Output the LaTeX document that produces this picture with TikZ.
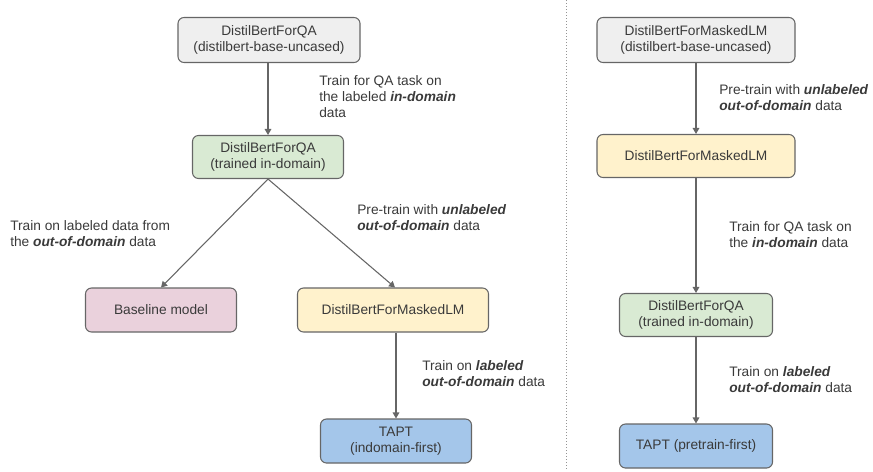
\documentclass[tikz,border=0pt]{standalone}
\usepackage{fontspec}
\setmainfont{Liberation Sans}
\usetikzlibrary{arrows.meta}

\definecolor{boxline}{HTML}{666666}
\definecolor{textgray}{HTML}{3A3A3A}
\definecolor{fillgray}{HTML}{EFEFEF}
\definecolor{fillgreen}{HTML}{D9EAD3}
\definecolor{fillpink}{HTML}{EAD1DC}
\definecolor{fillyellow}{HTML}{FFF2CC}
\definecolor{fillblue}{HTML}{A4C6EA}

\tikzset{
  box/.style={draw=boxline, line width=0.8pt, rounded corners=4.5pt, align=center,
    text=textgray, inner sep=2pt},
  note/.style={anchor=north west, align=left, inner sep=0pt, text=textgray},
  flow/.style={draw=boxline, line width=0.8pt, -{Triangle[width=5pt,length=4.5pt]}},
}
\newcommand{\bi}[1]{\textbf{\textit{#1}}}

\begin{document}
\begin{tikzpicture}[x=0.75pt,y=-0.75pt,font=\fontsize{10.3}{12.2}\selectfont]
\useasboundingbox (0,0) rectangle (873,471);

% left: indomain first
\node[box, fill=fillgray, minimum width=136.5pt, minimum height=33.75pt] (qa0) at (269,40) {DistilBertForQA\\(distilbert-base-uncased)};
\node[box, fill=fillgreen, minimum width=113.25pt, minimum height=32.25pt] (qaIn) at (268,157) {DistilBertForQA\\(trained in-domain)};
\node[box, fill=fillpink, minimum width=113.25pt, minimum height=33pt] (base) at (161,310) {Baseline model};
\node[box, fill=fillyellow, minimum width=143.25pt, minimum height=33pt] (mlmL) at (393,310) {DistilBertForMaskedLM};
\node[box, fill=fillblue, minimum width=113.25pt, minimum height=33pt] (taptL) at (396,441) {TAPT\\(indomain-first)};

% right: pretrain first
\node[box, fill=fillgray, minimum width=148.5pt, minimum height=33.75pt] (mlm0) at (696,40) {DistilBertForMaskedLM\\(distilbert-base-uncased)};
\node[box, fill=fillyellow, minimum width=148.5pt, minimum height=32.25pt] (mlmR) at (696,156) {DistilBertForMaskedLM};
\node[box, fill=fillgreen, minimum width=114.75pt, minimum height=32.25pt] (qaR) at (696,315) {DistilBertForQA\\(trained in-domain)};
\node[box, fill=fillblue, minimum width=114.75pt, minimum height=33pt] (taptR) at (696,446) {TAPT (pretrain-first)};

\path[flow] (qaIn.north |- qa0.south) -- (qaIn.north);
\path[flow] (qaIn.south) -- (base.north);
\path[flow] (qaIn.south) -- ([xshift=1.5pt]mlmL.north);
\path[flow] (taptL.north |- mlmL.south) -- (taptL.north);
\path[flow] (mlm0) -- (mlmR);
\path[flow] (mlmR) -- (qaR);
\path[flow] (qaR) -- (taptR);

% separator
\draw[boxline!70, line width=0.7pt, dash pattern=on 0.75pt off 1.5pt] (566,0) -- (566,471);

\node[note] (t1) at (319,75) {Train for QA task on\\the labeled \bi{in-domain}\\data};
\node[note] (t2) at (10,220) {Train on labeled data from\\the \bi{out-of-domain} data};
\node[note] (t3) at (357,204) {Pre-train with \bi{unlabeled}\\\bi{out-of-domain} data};
\node[note] (t4) at (422,360) {Train on \bi{labeled}\\\bi{out-of-domain} data};
\node[note] (t5) at (719,84) {Pre-train with \bi{unlabeled}\\\bi{out-of-domain} data};
\node[note] (t6) at (729,221) {Train for QA task on\\the \bi{in-domain} data};
\node[note] (t7) at (729,366) {Train on \bi{labeled}\\\bi{out-of-domain} data};
\end{tikzpicture}
\end{document}
